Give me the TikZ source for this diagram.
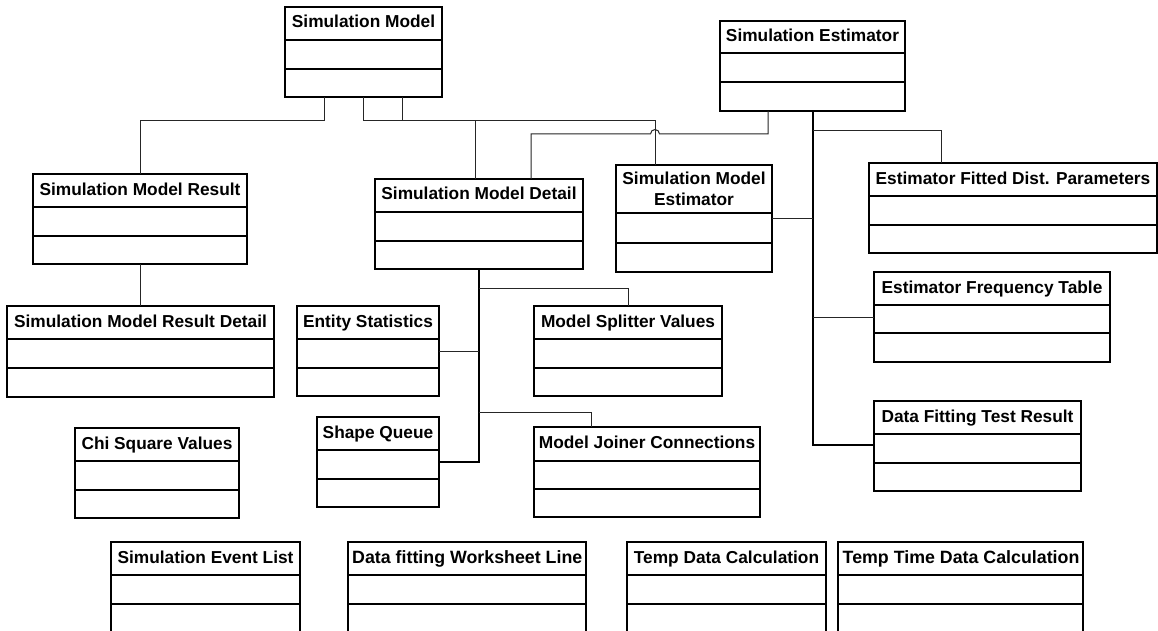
\documentclass[tikz,border=0pt]{standalone}
\usepackage{fontspec}
\setmainfont{Liberation Sans}
\begin{document}
\begin{tikzpicture}[x=1pt,y=-1pt,
  boxline/.style={line width=1.5pt, black},
  link/.style={line width=1pt, black!85},
  trunk/.style={line width=1.4pt, black},
  titletext/.style={font=\fontsize{17.3}{21}\selectfont\bfseries, inner sep=0pt, align=center},
  one/.style={text height=12.5pt, text depth=3.5pt},
  longtitle/.style={one, anchor=west, font=\fontsize{17.8}{21}\selectfont\bfseries}]

% page
\fill[white] (0,0) rectangle (1158,631);
\useasboundingbox (0,0) rectangle (1158,631);

% class box: name, left, top, right, first divider, second divider, bottom, title, title options
\newcommand{\umlclass}[9]{%
  \node[draw, boxline, inner sep=0pt, outer sep=0pt,
        minimum width={(#4-#2)*1pt}, minimum height={(#7-#3)*1pt}]
        (#1) at ({(#2+#4)/2},{(#3+#7)/2}) {};
  \draw[boxline] (#2,#5) -- (#4,#5) (#2,#6) -- (#4,#6);
  \begin{scope}
    \clip (#2,#3) rectangle ({#4-5},#5);
    \node[titletext,#9] at ({(#2+#4)/2},{(#3+#5)/2}) {#8};
  \end{scope}}

\umlclass{SM}{285}{7}{442}{40}{69}{97}{Simulation Model}{one}
\umlclass{SE}{720}{21}{905}{53}{82}{111}{Simulation Estimator}{one}
\umlclass{SMR}{33}{174}{247}{207}{236}{264}{Simulation Model Result}{one}
\umlclass{SMD}{375}{179}{583}{212}{241}{269}{Simulation Model Detail}{one}
\umlclass{SME}{616}{165}{772}{213}{243}{272}{Simulation Model\\Estimator}{}
\umlclass{EFDP}{869}{163}{1157}{196}{225}{253}{Estimator Fitted Dist. Parameters}{one}
\umlclass{SMRD}{7}{306}{274}{339}{368}{397}{Simulation Model Result Detail}{one}
\umlclass{ES}{297}{306}{439}{339}{368}{396}{Entity Statistics}{one}
\umlclass{MSV}{534}{306}{722}{339}{368}{396}{Model Splitter Values}{one}
\umlclass{EFT}{874}{272}{1110}{305}{333}{362}{Estimator Frequency Table}{one}
\umlclass{SQ}{317}{417}{439}{450}{479}{507}{Shape Queue}{one}
\umlclass{MJC}{534}{427}{760}{461}{489}{517}{Model Joiner Connections}{one}
\umlclass{DFTR}{874}{401}{1081}{434}{463}{491}{Data Fitting Test Result}{one}
\umlclass{CSV}{75}{428}{239}{461}{490}{518}{Chi Square Values}{one}
\umlclass{SEL}{111}{542}{300}{575}{604}{634}{Simulation Event List}{one}
\umlclass{DFWL}{348}{542}{586}{575}{604}{634}{Data fitting Worksheet Line}{longtitle, xshift=-115pt}
\umlclass{TDC}{627}{542}{826}{575}{604}{634}{Temp Data Calculation}{one}
\umlclass{TTDC}{838}{542}{1083}{575}{604}{634}{Temp Time Data Calculation}{longtitle, xshift=-118pt}

% links from Simulation Model
\draw[link] ([xshift=39pt]SM.south west) -- ++(0,24) -| (SMR.north);
\draw[link] ([xshift=78pt]SM.south west) -- ++(0,24) -| ([xshift=39pt]SME.north west);
\draw[link] ([xshift=117pt]SM.south west) -- ++(0,24) -| ([xshift=100pt]SMD.north west);

% Simulation Estimator to Simulation Model Detail, hopping over the crossing line
\coordinate (hopR) at (659.5,134);
\draw[link] ([xshift=48pt]SE.south west) |- (hopR)
  arc[start angle=0, end angle=180, radius=4.5pt] -| ([xshift=156pt]SMD.north west);

% Simulation Estimator trunk and its branches
\coordinate (etop) at ([xshift=93pt]SE.south west);
\draw[trunk] (etop) |- ([yshift=-44pt]DFTR.north west);
\draw[link] ([yshift=-20pt]etop) -| ([xshift=72pt]EFDP.north west);
\coordinate (smej) at ([yshift=-53pt]SME.north east);
\draw[link] (smej) -- (smej -| etop);
\coordinate (eftj) at ([yshift=-45pt]EFT.north west);
\draw[link] (eftj) -- (eftj -| etop);

% Simulation Model Detail trunk and its branches
\coordinate (dtop) at ([xshift=104pt]SMD.south west);
\draw[trunk] (dtop) |- ([yshift=-45pt]SQ.north east);
\coordinate (esj) at ([yshift=-45pt]ES.north east);
\draw[link] (esj) -- (esj -| dtop);
\draw[link] ([yshift=-19pt]dtop) -| ([xshift=94pt]MSV.north west);
\draw[link] ([yshift=-143pt]dtop) -| ([xshift=57pt]MJC.north west);

% result to result detail
\draw[link] (SMR.south) -- (SMR.south |- SMRD.north);
\end{tikzpicture}
\end{document}
